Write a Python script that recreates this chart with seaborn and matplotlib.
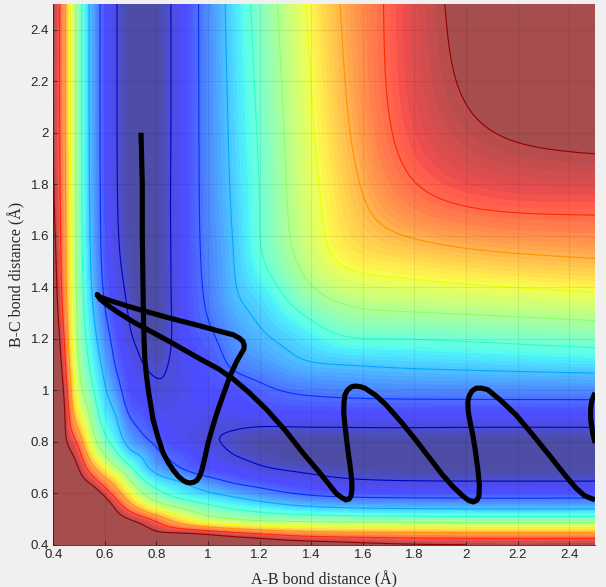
import numpy as np
import pandas as pd
import matplotlib
matplotlib.use("Agg")
import matplotlib.pyplot as plt
import seaborn as sns

grid_r = [0.40, 0.45, 0.50, 0.55, 0.60, 0.65, 0.70, 0.75, 0.80, 0.90, 1.0, 1.1, 1.2, 1.35, 1.5, 1.7, 2.0, 2.5]

# Surface height in contour-level units, upper triangle (the picture is symmetric about x = y)
row_040 = [45, 38, 30, 24, 20, 17, 15, 14, 13, 11.8, 11, 10.5, 10.2, 9.9, 9.6, 9.2, 9.0, 9.0]
row_045 = [30, 23, 18, 14, 11.8, 10.5, 9.7, 9.1, 8.7, 8.3, 7.85, 7.5, 7.1, 6.95, 6.9, 6.85, 6.85]
row_050 = [18, 14, 11, 9.6, 8.9, 8.3, 7.6, 6.2, 5.4, 5.0, 4.75, 4.6, 4.5, 4.45, 4.4, 4.4]
row_055 = [12, 10, 8.5, 7.3, 6.3, 5.55, 4.75, 4.15, 3.75, 3.45, 3.05, 2.85, 2.75, 2.7, 2.7]
row_060 = [8.6, 7.3, 6.0, 4.95, 4.3, 3.55, 3.1, 2.7, 2.35, 1.95, 1.75, 1.68, 1.65, 1.65]
row_065 = [6.2, 4.95, 4.05, 3.45, 2.85, 2.25, 1.85, 1.6, 1.3, 1.1, 1.0, 0.97, 0.97]
row_070 = [4.1, 3.25, 2.65, 1.95, 1.55, 1.35, 1.07, 0.85, 0.72, 0.62, 0.6, 0.6]
row_075 = [2.8, 2.2, 1.7, 1.35, 1.0, 0.78, 0.58, 0.52, 0.47, 0.45, 0.45]
row_080 = [1.85, 1.35, 1.1, 0.88, 0.68, 0.62, 0.62, 0.62, 0.6, 0.6]
row_090 = [1.35, 1.25, 1.28, 1.38, 1.42, 1.42, 1.42, 1.42, 1.42]
row_100 = [1.55, 1.65, 1.85, 2.1, 2.2, 2.27, 2.3, 2.33]
row_110 = [2.1, 2.4, 2.85, 3.0, 3.1, 3.2, 3.35]
row_120 = [2.85, 3.3, 3.85, 4.0, 4.1, 4.33]
row_135 = [4.3, 5.05, 5.35, 5.5, 5.73]
row_150 = [6.0, 6.36, 6.64, 6.92]
row_170 = [7.3, 7.93, 8.1]
row_200 = [8.85, 9.25]
row_250 = [10.14]
surface_rows = [row_040, row_045, row_050, row_055, row_060, row_065, row_070, row_075, row_080,
                row_090, row_100, row_110, row_120, row_135, row_150, row_170, row_200, row_250]

# Trajectory
traj_ab = [0.74, 0.745, 0.745, 0.748, 0.75, 0.755, 0.762, 0.77, 0.787, 0.805, 0.826, 0.845, 0.865, 0.885, 0.903,
           0.918, 0.93, 0.945, 0.957, 0.968, 0.976, 0.988, 1.0, 1.017, 1.034, 1.06, 1.085, 1.11, 1.13, 1.139,
           1.14, 1.135, 1.12, 1.098, 1.03, 0.968, 0.84, 0.71, 0.62, 0.58, 0.57, 0.58, 0.608, 0.65, 0.71, 0.84,
           0.968, 1.04, 1.098, 1.16, 1.227, 1.3, 1.368, 1.434, 1.496, 1.515, 1.534, 1.546, 1.554, 1.558, 1.557,
           1.55, 1.542, 1.531, 1.526, 1.527, 1.53, 1.54, 1.555, 1.569, 1.59, 1.608, 1.65, 1.69, 1.75, 1.805,
           1.86, 1.91, 1.95, 1.988, 2.01, 2.027, 2.042, 2.05, 2.052, 2.046, 2.037, 2.027, 2.015, 2.008, 2.007,
           2.012, 2.023, 2.04, 2.06, 2.084, 2.135, 2.194, 2.26, 2.325, 2.38, 2.426, 2.46, 2.5]
traj_bc = [2.0, 1.8, 1.6, 1.39, 1.25, 1.117, 1.05, 0.99, 0.885, 0.82, 0.756, 0.72, 0.69, 0.665, 0.65,
           0.642, 0.64, 0.643, 0.65, 0.668, 0.69, 0.74, 0.795, 0.855, 0.911, 0.985, 1.055, 1.11, 1.145, 1.16,
           1.175, 1.19, 1.203, 1.215, 1.233, 1.25, 1.283, 1.32, 1.348, 1.362, 1.372, 1.355, 1.332, 1.303, 1.265, 1.195,
           1.122, 1.083, 1.043, 0.99, 0.925, 0.843, 0.756, 0.678, 0.60, 0.585, 0.574, 0.577, 0.589, 0.615, 0.651,
           0.71, 0.768, 0.86, 0.91, 0.95, 0.98, 1.0, 1.013, 1.016, 1.014, 1.008, 0.98, 0.943, 0.875, 0.807,
           0.735, 0.67, 0.625, 0.589, 0.572, 0.566, 0.572, 0.589, 0.63, 0.69, 0.76, 0.822, 0.88, 0.923, 0.955,
           0.977, 0.997, 1.008, 1.008, 1.002, 0.96, 0.904, 0.825, 0.745, 0.675, 0.62, 0.59, 0.574]
reentry_ab = [2.5, 2.488, 2.483, 2.483, 2.49, 2.5]
reentry_bc = [0.99, 0.96, 0.93, 0.89, 0.84, 0.795]

tick_values = [0.4, 0.6, 0.8, 1.0, 1.2, 1.4, 1.6, 1.8, 2.0, 2.2, 2.4]
tick_labels = ["0.4", "0.6", "0.8", "1", "1.2", "1.4", "1.6", "1.8", "2", "2.2", "2.4"]
contour_levels = [1, 2, 3, 4, 5, 6, 7, 8, 9]

# ---------------------------------------------------------------------
sns.set_theme(style="ticks")
BG = "#f0f0f0"
plt.rcParams["font.family"] = ["Liberation Sans", "DejaVu Sans"]

r = np.array(grid_r)
n = len(r)
Z = np.zeros((n, n))
for i, row in enumerate(surface_rows):
    Z[i, i:] = row
    Z[i:, i] = row


def spline_weights(x, xf):
    """Natural cubic spline through knots x, as a matrix mapping knot values to values at xf."""
    m = len(x)
    h = np.diff(x)
    A = np.zeros((m, m))
    B = np.zeros((m, m))
    A[0, 0] = A[-1, -1] = 1
    for i in range(1, m - 1):
        A[i, i - 1:i + 2] = h[i - 1], 2 * (h[i - 1] + h[i]), h[i]
        B[i, i - 1:i + 2] = 6 / h[i - 1], -6 / h[i - 1] - 6 / h[i], 6 / h[i]
    M = np.linalg.solve(A, B)
    k = np.clip(np.searchsorted(x, xf) - 1, 0, m - 2)
    W = np.zeros((len(xf), m))
    for j, (q, s) in enumerate(zip(k, xf)):
        a = (x[q + 1] - s) / h[q]
        b = (s - x[q]) / h[q]
        W[j, q] += a
        W[j, q + 1] += b
        W[j] += ((a ** 3 - a) * M[q] + (b ** 3 - b) * M[q + 1]) * h[q] ** 2 / 6
    return W


r_fine = np.linspace(0.4, 2.5, 541)
W = spline_weights(np.log(r - 0.25), np.log(r_fine - 0.25))
Z_fine = np.exp(W @ np.log(Z) @ W.T)
X_fine, Y_fine = np.meshgrid(r_fine, r_fine)

fig = plt.figure(figsize=(6.06, 5.87), dpi=100, facecolor=BG)
ax = fig.add_axes([53.3 / 606, (587 - 544.7) / 587, 541.7 / 606, 540.7 / 587])

jet = matplotlib.colormaps["jet"]


def level_pos(v):
    v = np.asarray(v, dtype=float)
    return np.where(v < 1, (v - 0.6) / 0.4 * 0.06, 0.06 + (v - 1) * 0.115).clip(0, 1)


fill_levels = np.r_[np.linspace(0.6, 1, 5)[:-1], np.linspace(1, 9, 65)]
fill_rgb = jet(level_pos((fill_levels[:-1] + fill_levels[1:]) / 2))[:, :3] * 0.7 + 0.3
cmap = matplotlib.colors.ListedColormap(fill_rgb)
cmap.set_under(tuple(np.array(jet(0.0)[:3]) * 0.7 + 0.3))
cmap.set_over(tuple(np.array(jet(1.0)[:3]) * 0.7 + 0.3))
norm = matplotlib.colors.BoundaryNorm(fill_levels, cmap.N)
ax.contourf(X_fine, Y_fine, Z_fine, levels=fill_levels, cmap=cmap, norm=norm, extend="both", zorder=1)
ax.contour(X_fine, Y_fine, Z_fine, levels=contour_levels, colors=[jet(float(level_pos(v))) for v in contour_levels],
           linewidths=0.8, zorder=2)

traj = pd.DataFrame({
    "ab": traj_ab + reentry_ab,
    "bc": traj_bc + reentry_bc,
    "seg": [0] * len(traj_ab) + [1] * len(reentry_ab),
})
sns.lineplot(data=traj, x="ab", y="bc", units="seg", estimator=None, sort=False, color="black",
             lw=3.7, ax=ax, zorder=4, legend=False, solid_joinstyle="round", solid_capstyle="butt")

ax.set_xlim(0.4, 2.5)
ax.set_ylim(0.4, 2.5)
ax.set_xticks(tick_values, tick_labels)
ax.set_yticks(tick_values, tick_labels)
ax.grid(True, color="black", alpha=0.07, lw=0.8, zorder=3)
ax.set_axisbelow(False)
ax.tick_params(direction="in", length=3, width=0.6, labelsize=9.5, colors="#262626", pad=3)
for s in ["top", "right"]:
    ax.spines[s].set_visible(False)
for s in ["left", "bottom"]:
    ax.spines[s].set_color("#262626")
    ax.spines[s].set_linewidth(0.6)
ax.set_xlabel("A-B bond distance (Å)", family=["Liberation Serif", "DejaVu Serif"], fontsize=11.5,
              color="#262626", labelpad=7)
ax.set_ylabel("B-C bond distance (Å)", family=["Liberation Serif", "DejaVu Serif"], fontsize=11.5,
              color="#262626", labelpad=4)
fig.savefig("out.png", dpi=100, facecolor=BG)
